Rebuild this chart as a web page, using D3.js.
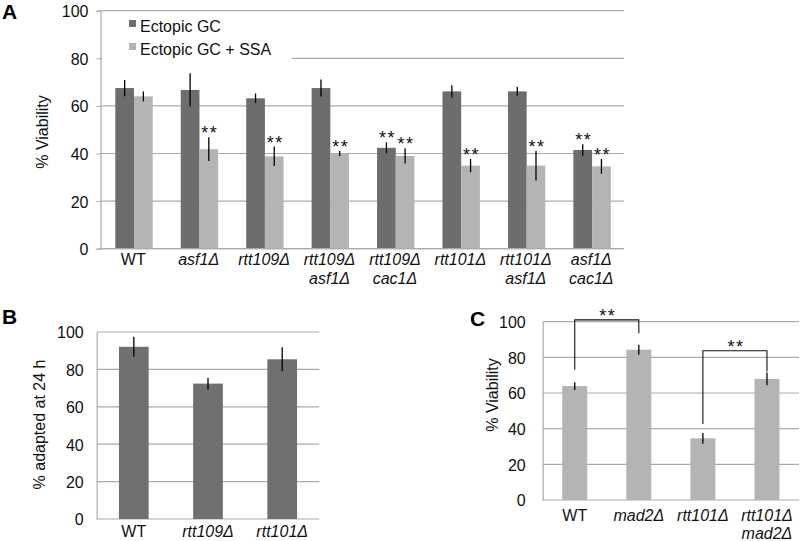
<!DOCTYPE html>
<html>
<head>
<meta charset="utf-8">
<script src="https://cdn.jsdelivr.net/npm/d3@7"></script>
<style>
  html, body { margin: 0; padding: 0; background: #fff; }
  svg { display: block; font-family: "Liberation Sans", Arial, sans-serif; }
</style>
</head>
<body>
<svg id="chart" width="800" height="541"></svg>
<script>
// ---------- DATA ----------
// Panel A
const categoriesA = ["WT", "asf1Δ", "rtt109Δ", "rtt109Δ\nasf1Δ", "rtt109Δ\ncac1Δ", "rtt101Δ", "rtt101Δ\nasf1Δ", "asf1Δ\ncac1Δ"];
const seriesNamesA = ["Ectopic GC", "Ectopic GC + SSA"];
const ectopicGC = [67.5, 66.7, 63.2, 67.5, 42.4, 66.1, 66.1, 41.5];
const ectopicGCErr = [3.4, 7.0, 2.0, 3.6, 2.3, 2.6, 1.8, 2.4];
const ectopicSSA = [64.0, 41.8, 38.8, 40.0, 39.0, 34.9, 34.9, 34.6];
const ectopicSSAErr = [2.1, 5.0, 4.1, 1.0, 3.2, 2.8, 6.2, 3.1];
const sigGC = [false, false, false, false, true, false, false, true];
const sigSSA = [false, true, true, true, true, true, true, true];
const ticksA = [0, 20, 40, 60, 80, 100];

// Panel B
const categoriesB = ["WT", "rtt109Δ", "rtt101Δ"];
const adaptedB = [92.1, 72.4, 85.4];
const adaptedBErr = [5.3, 3.1, 6.4];
const ticksB = [0, 20, 40, 60, 80, 100];

// Panel C
const categoriesC = ["WT", "mad2Δ", "rtt101Δ", "rtt101Δ\nmad2Δ"];
const viabilityC = [63.9, 84.3, 34.6, 67.9];
const viabilityCErr = [2.2, 2.8, 3.0, 3.6];
const ticksC = [0, 20, 40, 60, 80, 100];
// significance brackets: indices compared, bracket level and leg ends (in % units)
const bracketPairsC = [[0, 1], [2, 3]];
const bracketTopC = [101, 83.7];
const bracketLeftEndC = [73, 42.6];
const bracketRightEndC = [93.5, 72];

// ---------- STYLE ----------
const DARK = "#6d6d6d";
const LIGHT = "#b4b4b4";
const GRID = "#ababab";
const FS = 16;

const svg = d3.select("#chart");

function italicFor(label) { return label !== "WT"; }

function drawPanel(opts) {
  const g = svg.append("g");
  const x = d3.scaleBand().domain(opts.categories).range(opts.xRange).padding(0);
  const y = d3.scaleLinear().domain([0, 100]).range(opts.yRange);

  // gridlines
  g.selectAll("line.grid").data(opts.ticks).join("line")
    .attr("x1", opts.xRange[0]).attr("x2", opts.xRange[1])
    .attr("y1", d => y(d)).attr("y2", d => y(d))
    .attr("stroke", GRID).attr("stroke-width", 1.2);

  // y axis via d3
  const axis = d3.axisLeft(y).tickValues(opts.ticks).tickSize(opts.tickLen).tickPadding(opts.tickPad).tickFormat(d3.format("d"));
  const ag = g.append("g").attr("transform", `translate(${opts.xRange[0]},0)`).call(axis);
  ag.select(".domain").attr("stroke", GRID).attr("stroke-width", 1.2);
  ag.selectAll(".tick line").attr("stroke", GRID);
  ag.selectAll(".tick text").attr("font-size", FS).attr("fill", "#111").attr("dy", "0.37em")
    .attr("font-family", '"Liberation Sans", Arial, sans-serif');

  // y title
  g.append("text")
    .attr("transform", `translate(${opts.yTitleX},${opts.yTitleY}) rotate(-90)`)
    .attr("text-anchor", "middle").attr("font-size", FS).attr("fill", "#111")
    .text(opts.yTitle);

  // x labels
  opts.categories.forEach(c => {
    const lines = c.split("\n");
    const t = g.append("text")
      .attr("x", x(c) + x.bandwidth() / 2)
      .attr("y", opts.xLabelY)
      .attr("text-anchor", "middle").attr("font-size", FS).attr("fill", "#111")
      .attr("font-style", italicFor(c) ? "italic" : "normal");
    lines.forEach((ln, i) => {
      t.append("tspan").attr("x", x(c) + x.bandwidth() / 2).attr("dy", i === 0 ? 0 : opts.lineGap).text(ln);
    });
  });

  // panel letter
  svg.append("text").attr("x", opts.letterX).attr("y", opts.letterY)
    .attr("font-size", 21).attr("font-weight", "bold").attr("fill", "#000")
    .text(opts.letter);

  return { g, x, y };
}

function errorBar(g, cx, y, v, e) {
  g.append("line").attr("x1", cx).attr("x2", cx)
    .attr("y1", y(v + e)).attr("y2", y(v - e))
    .attr("stroke", "#000").attr("stroke-width", 1.3);
}
function stars(g, cx, yPix) {
  g.append("text").attr("x", cx).attr("y", yPix).attr("text-anchor", "middle")
    .attr("font-size", 18).attr("letter-spacing", 1.5).attr("fill", "#111").text("**");
}

// ---------- PANEL A ----------
{
  const P = drawPanel({
    categories: categoriesA, xRange: [100.5, 624], yRange: [248.7, 10.7], ticks: ticksA,
    tickLen: 4, tickPad: 8, yTitle: "% Viability", yTitleX: 48, yTitleY: 132,
    xLabelY: 265, lineGap: 18.5, letter: "A", letterX: 2, letterY: 19
  });
  const { g, x, y } = P;
  const bw = 18.7;
  const series = [ectopicGC, ectopicSSA];
  const errs = [ectopicGCErr, ectopicSSAErr];
  const sigs = [sigGC, sigSSA];
  const colors = [DARK, LIGHT];
  const x1 = d3.scaleBand().domain([0, 1]).range([0, 2 * bw]);
  categoriesA.forEach((c, i) => {
    const gx = x(c) + x.bandwidth() / 2 - bw + 0.8;
    [0, 1].forEach(s => {
      g.append("rect").attr("x", gx + x1(s)).attr("width", x1.bandwidth())
        .attr("y", y(series[s][i])).attr("height", y(0) - y(series[s][i]))
        .attr("fill", colors[s]);
    });
    [0, 1].forEach(s => {
      const cx = gx + x1(s) + x1.bandwidth() / 2;
      errorBar(g, cx, y, series[s][i], errs[s][i]);
      if (sigs[s][i]) stars(g, cx + 1, y(series[s][i] + errs[s][i]) + 2);
    });
  });
  // baseline
  g.append("line").attr("x1", 100.5).attr("x2", 624).attr("y1", y(0)).attr("y2", y(0))
    .attr("stroke", GRID).attr("stroke-width", 1.2);
  // legend
  const lg = g.append("g");
  lg.append("rect").attr("x", 102).attr("y", 12).attr("width", 190).attr("height", 47.5).attr("fill", "#fff");
  seriesNamesA.forEach((n, i) => {
    lg.append("rect").attr("x", 129).attr("y", 20 + i * 23).attr("width", 7).attr("height", 7).attr("fill", colors[i]);
    lg.append("text").attr("x", 140).attr("y", 31.5 + i * 23).attr("font-size", FS).attr("fill", "#111").text(n);
  });
}

// ---------- PANEL B ----------
{
  const { g, x, y } = drawPanel({
    categories: categoriesB, xRange: [96.7, 319.3], yRange: [519, 332], ticks: ticksB,
    tickLen: 0, tickPad: 13, yTitle: "% adapted at 24 h", yTitleX: 45, yTitleY: 424.5,
    xLabelY: 536.5, lineGap: 18.5, letter: "B", letterX: 2, letterY: 323.5
  });
  const bw = 29.7;
  categoriesB.forEach((c, i) => {
    const cx = x(c) + x.bandwidth() / 2;
    g.append("rect").attr("x", cx - bw / 2).attr("width", bw)
      .attr("y", y(adaptedB[i])).attr("height", y(0) - y(adaptedB[i])).attr("fill", "#707070");
    errorBar(g, cx, y, adaptedB[i], adaptedBErr[i]);
  });
}

// ---------- PANEL C ----------
{
  const { g, x, y } = drawPanel({
    categories: categoriesC, xRange: [542.7, 799], yRange: [500, 321.7], ticks: ticksC,
    tickLen: 0, tickPad: 17, yTitle: "% Viability", yTitleX: 498, yTitleY: 395,
    xLabelY: 520.5, lineGap: 18.5, letter: "C", letterX: 470, letterY: 325.5
  });
  const bw = 25;
  categoriesC.forEach((c, i) => {
    const cx = x(c) + x.bandwidth() / 2;
    g.append("rect").attr("x", cx - bw / 2).attr("width", bw)
      .attr("y", y(viabilityC[i])).attr("height", y(0) - y(viabilityC[i])).attr("fill", LIGHT);
    errorBar(g, cx, y, viabilityC[i], viabilityCErr[i]);
  });
  bracketPairsC.forEach((p, k) => {
    const xa = x(categoriesC[p[0]]) + x.bandwidth() / 2;
    const xb = x(categoriesC[p[1]]) + x.bandwidth() / 2;
    const path = d3.path();
    path.moveTo(xa, y(bracketLeftEndC[k]));
    path.lineTo(xa, y(bracketTopC[k]));
    path.lineTo(xb, y(bracketTopC[k]));
    path.lineTo(xb, y(bracketRightEndC[k]));
    g.append("path").attr("d", path.toString()).attr("fill", "none")
      .attr("stroke", "#111").attr("stroke-width", 1.1);
    stars(g, (xa + xb) / 2 + 1, y(bracketTopC[k]) + 2.5);
  });
}
</script>
</body>
</html>
